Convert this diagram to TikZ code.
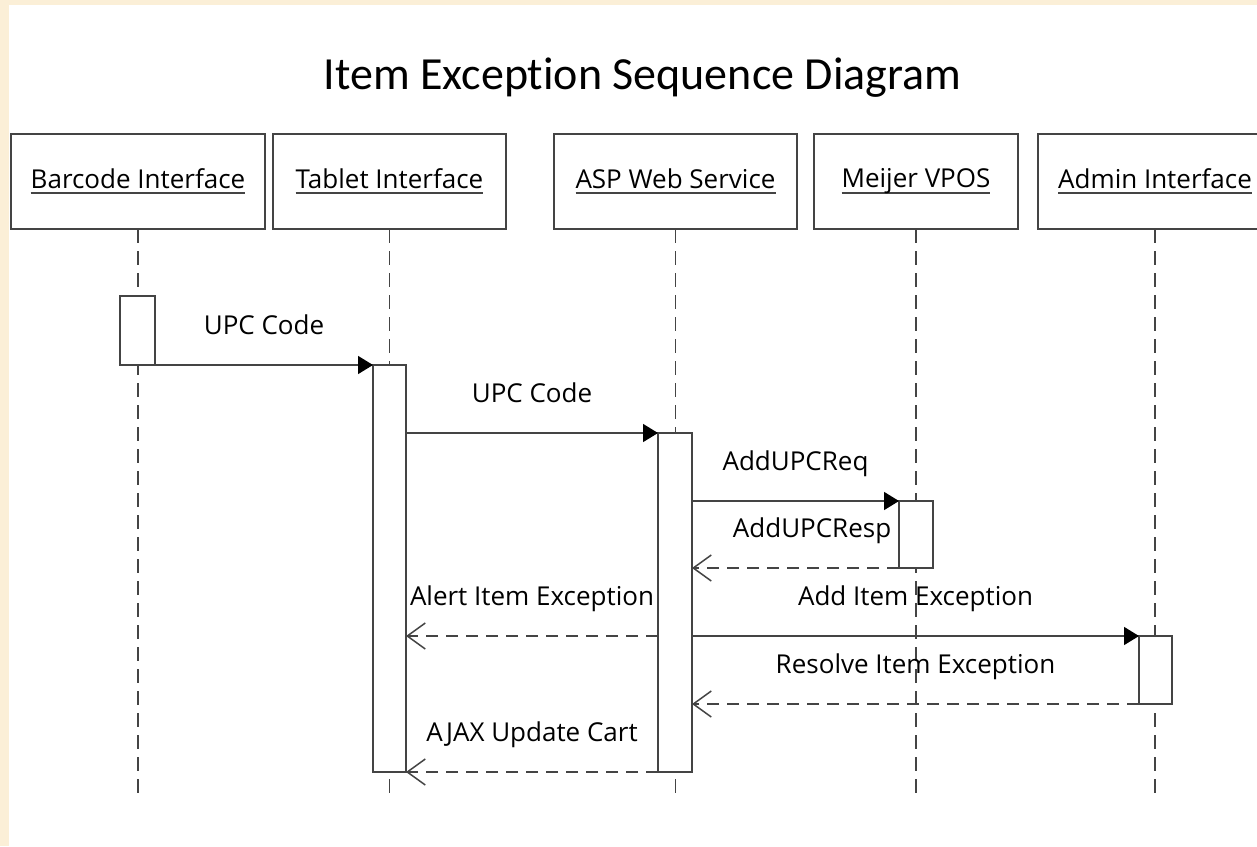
\documentclass[tikz,border=0pt]{standalone}
\usepackage{fontspec}
\setmainfont{Open Sans}
\newfontfamily\titlefont[RawFeature={-liga;-clig;-dlig;-calt;-rlig}]{Carlito}
\usetikzlibrary{arrows.meta,calc}
\definecolor{ln}{HTML}{444444}
\definecolor{bgy}{HTML}{FBEFD7}
\newcommand\myul[1]{\setbox0\hbox{#1}\rlap{\textcolor{ln}{\rule[-2.8pt]{\wd0}{1pt}}}\box0}
\begin{document}
\begin{tikzpicture}[x=0.5pt,y=-0.5pt,
  font=\fontsize{13pt}{15pt}\selectfont,
  head/.style={draw=ln, line width=0.75pt, fill=white, minimum height=47.5pt, inner sep=0pt, outer sep=0pt},
  act/.style={draw=ln, line width=0.75pt, fill=white, inner sep=0pt, outer sep=0pt},
  lifeline/.style={draw=ln, line width=0.9pt, dash pattern=on 7pt off 4pt},
  msg/.style={draw=ln, line width=0.75pt, -{Triangle[length=7.5pt,width=9pt,color=black]}},
  reply/.style={draw=ln, line width=0.75pt, dash pattern=on 6pt off 4pt, -{Straight Barb[length=9pt,width=13pt,color=ln]}},
  lbl/.style={anchor=base, yshift=15.5pt, inner sep=0pt}]
\useasboundingbox (0,0) rectangle (1257,846);
\clip (0,0) rectangle (1257,846);
\fill[bgy] (0,0) rectangle (1257,846);
\fill[white] (9,5) rectangle (1257,846);

\node[font=\titlefont\fontsize{23pt}{27pt}\selectfont, anchor=base, inner sep=0pt] (title) at (642.5,89) {Item Exception Sequence Diagram};

\node[head, minimum width=127pt] (hB) at (138,181.5) {\myul{Barcode Interface}};
\node[head, minimum width=116.5pt] (hT) at (389.5,181.5) {\myul{Tablet Interface}};
\node[head, minimum width=121.5pt] (hA) at (675.5,181.5) {\myul{ASP Web Service}};
\node[head, minimum width=102pt] (hM) at (916,181.5) {\myul{Meijer VPOS}};
\node[head, minimum width=117pt] (hD) at (1155,181.5) {\myul{Admin Interface}};

\coordinate (bot) at (0,800);
\foreach \n in {hB,hT,hA,hM,hD} \draw[lifeline] (\n.south) -- (\n.south |- bot);

\node[act, minimum width=17.5pt, minimum height=34.5pt] (aB) at (137.5,330.5) {};
\node[act, minimum width=16.5pt, minimum height=203.5pt] (aT) at (389.5,568.5) {};
\node[act, minimum width=17pt, minimum height=169.5pt] (aA) at (675,602.5) {};
\node[act, minimum width=17pt, minimum height=33.5pt] (aM) at (916,534.5) {};
\node[act, minimum width=16.5pt, minimum height=34pt] (aD) at (1155.5,670) {};

\draw[msg] (aB.south east) -- node[lbl] {UPC Code} (aT.north west);
\draw[msg] (aT.east |- aA.north west) -- node[lbl] {UPC Code} (aA.north west);
\draw[msg] (aA.east |- aM.north west) -- node[lbl] {AddUPCReq} (aM.north west);
\draw[reply] (aM.south west) -- node[lbl, pos=0.42] {AddUPCResp} (aA.east |- aM.south west);
\draw[msg] (aA.east |- aD.north west) -- node[lbl] {Add Item Exception} (aD.north west);
\draw[reply] (aA.west |- aD.north west) -- node[lbl] {Alert Item Exception} (aT.east |- aD.north west);
\draw[reply] (aD.south west) -- node[lbl] {Resolve Item Exception} (aA.east |- aD.south west);
\draw[reply] (aA.south west) -- node[lbl] {AJAX Update Cart} (aT.east |- aA.south west);
\end{tikzpicture}
\end{document}
